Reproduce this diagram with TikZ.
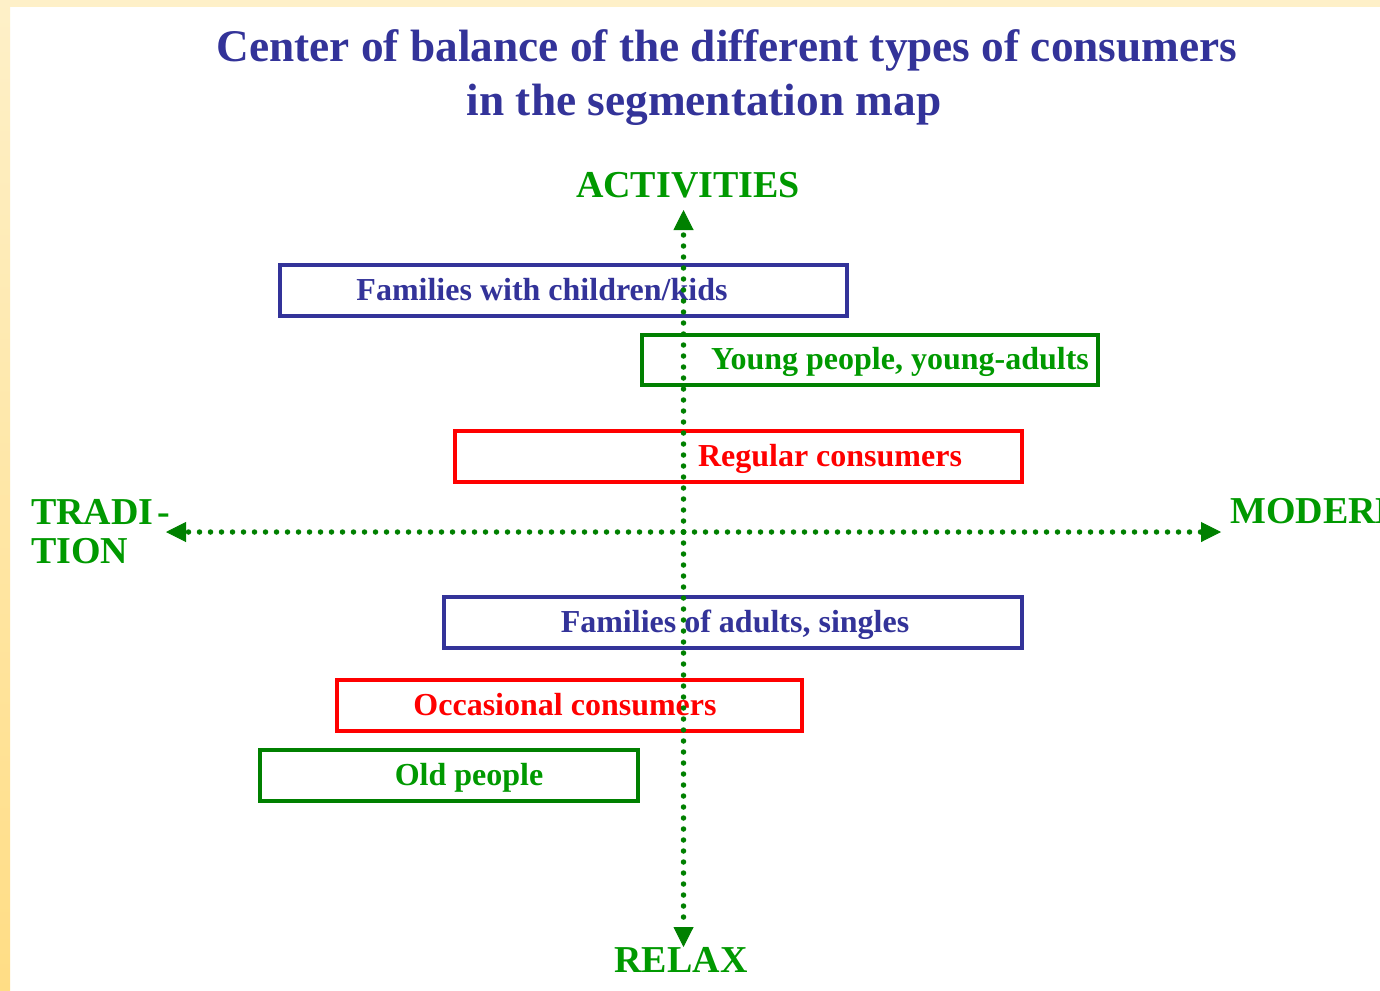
\documentclass[tikz,border=0pt]{standalone}
\usepackage{fontspec}
\setmainfont{Liberation Serif}
\usetikzlibrary{arrows.meta}
\definecolor{tblue}{HTML}{333399}
\definecolor{tgreen}{HTML}{009900}
\definecolor{bgreen}{HTML}{008000}
\definecolor{tred}{HTML}{FF0000}
\definecolor{paleyel}{HTML}{FEF0C8}
\definecolor{deepyel}{HTML}{FFDD85}
\tikzset{
  segbox/.style={draw, line width=4pt, rectangle, inner sep=0pt},
  segtext/.style={anchor=base, inner sep=0pt, font=\fontsize{32}{36}\selectfont\bfseries},
  axlabel/.style={anchor=base, inner sep=0pt, text=tgreen, font=\fontsize{38}{40}\selectfont\bfseries},
  titletext/.style={anchor=base, inner sep=0pt, text=tblue, font=\fontsize{45.3}{50}\selectfont\bfseries},
  axis/.style={draw=bgreen, line width=5.5pt, line cap=round, dash pattern=on 0pt off 11pt,
    -{Triangle[length=20pt,width=20pt,line width=1pt,fill=bgreen]}}
}
\begin{document}
\begin{tikzpicture}[x=1pt,y=-1pt]
\useasboundingbox (0,0) rectangle (1380,990);
% background
\fill[white] (0,0) rectangle (1380,990);
\fill[paleyel] (0,0) rectangle (1380,7);
\shade[top color=paleyel, bottom color=deepyel] (0,0) rectangle (10,990);
% title
\node[titletext] (t1) at (727,61) {Center of balance of the different types of consumers};
\node[titletext] (t2) at (704,115) {in the segmentation map};
% boxes
\node[segbox, draw=tblue, minimum width=567pt, minimum height=51pt] (b1) at (563.5,290.5) {};
\node[segtext, text=tblue] (l1) at (542,300) {Families with children/kids};
\node[segbox, draw=bgreen, minimum width=456pt, minimum height=50pt] (b2) at (870,360) {};
\node[segtext, text=tgreen] (l2) at (900,369.5) {Young people, young-adults};
\node[segbox, draw=tred, minimum width=567pt, minimum height=51pt] (b3) at (738.5,456.5) {};
\node[segtext, text=tred] (l3) at (830,466) {Regular consumers};
\node[segbox, draw=tblue, minimum width=578pt, minimum height=51pt] (b4) at (733,622.5) {};
\node[segtext, text=tblue] (l4) at (735,632) {Families of adults, singles};
\node[segbox, draw=tred, minimum width=465pt, minimum height=51pt] (b5) at (569.5,705.5) {};
\node[segtext, text=tred] (l5) at (565,715) {Occasional consumers};
\node[segbox, draw=bgreen, minimum width=378pt, minimum height=51pt] (b6) at (449,775.5) {};
\node[segtext, text=tgreen] (l6) at (469,785) {Old people};
% axis labels
\node[axlabel] (act) at (688,197) {ACTIVITIES};
\node[axlabel] (rel) at (681,972) {RELAX};
\node[axlabel, anchor=base west] (tra) at (31,524) {TRADI\kern4pt-};
\node[axlabel, anchor=base west] (tio) at (31,563) {TION};
\node[axlabel, anchor=base west] (mod) at (1230,523) {MODERN};
% axes
\coordinate (c) at (683.5,532);
\coordinate (top) at (683.5,210);
\coordinate (bot) at (683.5,947);
\coordinate (lft) at (166,532);
\coordinate (rgt) at (1221,532);
\draw[axis] (c) -- (top);
\draw[axis] (c) -- (bot);
\draw[axis] (c) -- (lft);
\draw[axis] (c) -- (rgt);
\end{tikzpicture}
\end{document}
